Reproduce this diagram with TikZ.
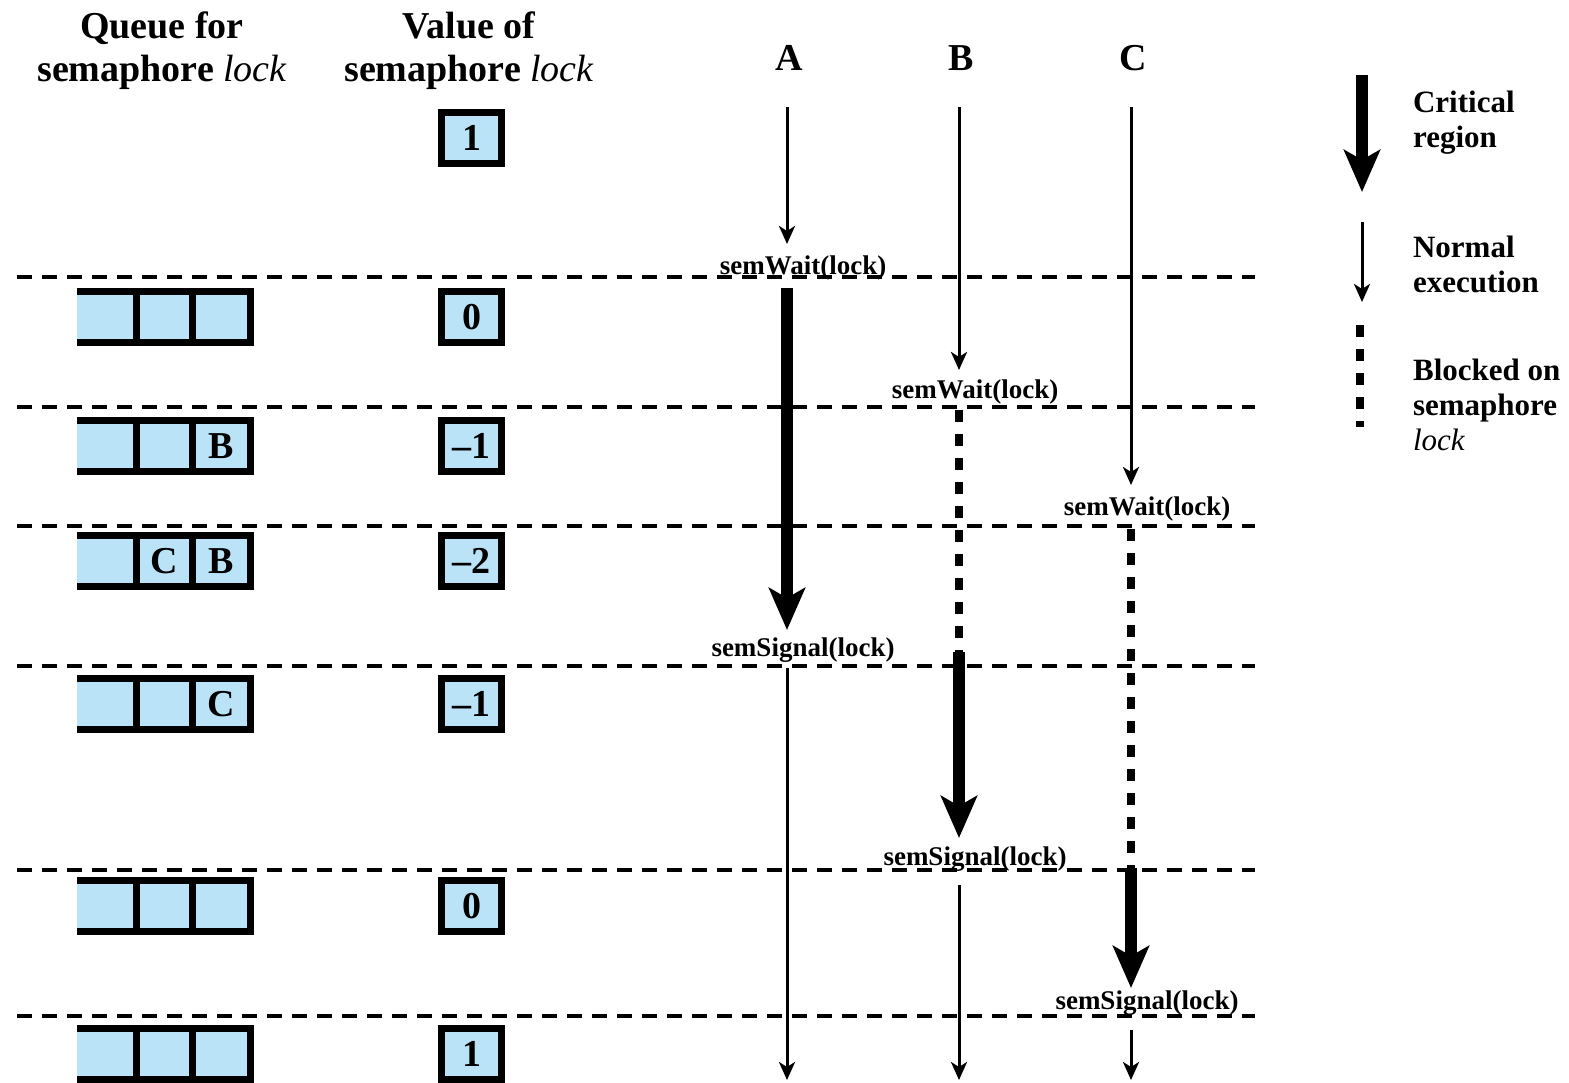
\documentclass[tikz,border=0pt]{standalone}
\usepackage{fontspec}
\setmainfont{Liberation Serif}
\usetikzlibrary{arrows.meta}
\definecolor{cellblue}{RGB}{187,227,247}
\begin{document}
\begin{tikzpicture}[x=0.5pt, y=-0.5pt,
    every node/.style={font=\bfseries},
    hdr/.style={font=\fontsize{19}{21.5}\selectfont\bfseries, align=center},
    lgd/.style={font=\fontsize{15.5}{17.5}\selectfont\bfseries, align=left, anchor=west},
    call/.style={font=\fontsize{13.5}{15}\selectfont\bfseries, inner sep=1pt},
    valbox/.style={draw, line width=3.5pt, fill=cellblue, minimum width=30pt,
      minimum height=25.5pt, inner sep=0pt, font=\fontsize{19}{21}\selectfont\bfseries},
    sep/.style={line width=2pt, dash pattern=on 7.5pt off 5pt},
    normal/.style={line width=1.5pt, -{Stealth[length=9pt, width=8pt, inset=2.5pt]}},
    critical/.style={line width=6pt, -{Stealth[length=21pt, width=18pt, inset=5pt]}},
    blocked/.style={line width=4pt, dash pattern=on 6pt off 6pt}]
  \useasboundingbox (0,0) rectangle (1569,1082);
  % headers
  \node[hdr] (qhead) at (162,51) {Queue for\\semaphore {\mdseries\itshape lock}};
  \node[hdr] (vhead) at (469,51) {Value of\\semaphore {\mdseries\itshape lock}};
  \foreach \p/\x in {A/787,B/959,C/1131}
    \node[hdr] (head\p) at (\x+2,58) {\p};
  % separators
  \foreach \y in {277,407,526,666,870,1016}
    \draw[sep] (17,\y) -- (1255,\y);
  % values
  \node[valbox] (v0) at (471.5,138) {1};
  \foreach \y/\v [count=\i] in {317/0,446/--1,561/--2,704/--1,906/0,1054/1}
    \node[valbox] (v\i) at (471.5,\y) {\v};
  % queues
  \foreach \y/\qb/\qc [count=\i] in {317/ / ,446/ /B,561/C/B,704/ /C,906/ / ,1054/ / }{
    \fill[cellblue] (77,\y-25.5) rectangle (250.5,\y+25.5);
    \draw[line width=3.5pt] (77,\y-25.5) -- (250.5,\y-25.5) -- (250.5,\y+25.5) -- (77,\y+25.5)
      (136,\y-25.5) -- (136,\y+25.5) (192.5,\y-25.5) -- (192.5,\y+25.5);
    \node[font=\fontsize{19}{21}\selectfont\bfseries] (qb\i) at (164.2,\y) {\qb};
    \node[font=\fontsize{19}{21}\selectfont\bfseries] (qc\i) at (221.5,\y) {\qc};
  }
  % process A
  \coordinate (A0) at (787,107);
  \coordinate (A1) at (787,244);
  \coordinate (A2) at (787,288);
  \coordinate (A3) at (787,630);
  \coordinate (A4) at (787,668);
  \coordinate (A5) at (787,1080);
  \draw[normal] (A0) -- (A1);
  \draw[critical] (A2) -- (A3);
  \draw[normal] (A4) -- (A5);
  % process B
  \coordinate (B0) at (959,107);
  \coordinate (B1) at (959,370);
  \coordinate (B2) at (959,410);
  \coordinate (B3) at (959,652);
  \coordinate (B4) at (959,838);
  \coordinate (B5) at (959,885);
  \coordinate (B6) at (959,1080);
  \draw[normal] (B0) -- (B1);
  \draw[blocked] (B2) -- (B3);
  \draw[critical] (B3) -- (B4);
  \draw[normal] (B5) -- (B6);
  % process C
  \coordinate (C0) at (1131,107);
  \coordinate (C1) at (1131,485);
  \coordinate (C2) at (1131,529);
  \coordinate (C3) at (1131,868);
  \coordinate (C4) at (1131,988);
  \coordinate (C5) at (1131,1030);
  \coordinate (C6) at (1131,1080);
  \draw[normal] (C0) -- (C1);
  \draw[blocked] (C2) -- (C3);
  \draw[critical] (C3) -- (C4);
  \draw[normal] (C5) -- (C6);
  % semaphore calls
  \node[call] (waitA) at (803,268) {semWait(lock)};
  \node[call] (waitB) at (975,392) {semWait(lock)};
  \node[call] (waitC) at (1147,509) {semWait(lock)};
  \node[call] (sigA) at (803,650) {semSignal(lock)};
  \node[call] (sigB) at (975,859) {semSignal(lock)};
  \node[call] (sigC) at (1147,1003) {semSignal(lock)};
  % legend
  \coordinate (L0) at (1362,75);
  \coordinate (L1) at (1362,192);
  \coordinate (L2) at (1362,222);
  \coordinate (L3) at (1362,302);
  \coordinate (L4) at (1360,325);
  \coordinate (L5) at (1360,427);
  \draw[critical] (L0) -- (L1);
  \draw[normal] (L2) -- (L3);
  \draw[blocked] (L4) -- (L5);
  \node[lgd] (crit) at (1406,123) {Critical\\region};
  \node[lgd] (norm) at (1406,264) {Normal\\execution};
  \node[lgd] (blk) at (1406,405) {Blocked on\\semaphore\\{\mdseries\itshape lock}};
\end{tikzpicture}
\end{document}
